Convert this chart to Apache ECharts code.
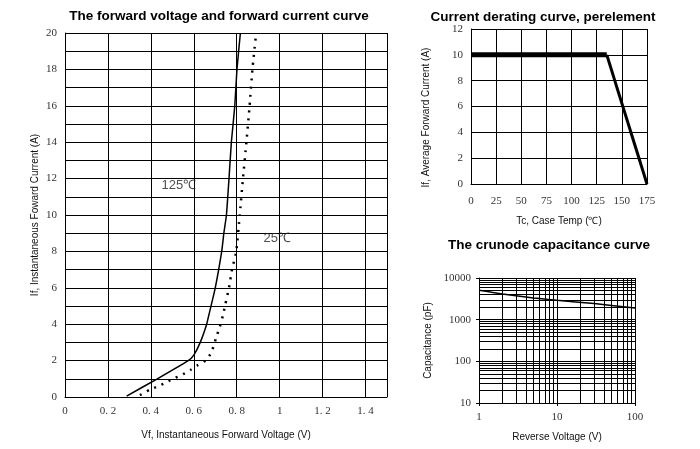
<!DOCTYPE html>
<html>
<head>
<meta charset="utf-8">
<script src="https://cdn.jsdelivr.net/npm/echarts@6/dist/echarts.min.js"></script>
<style>
  html, body { margin: 0; padding: 0; background: #fff; }
  #main { width: 700px; height: 449px; }
</style>
</head>
<body>
<div id="main"></div>
<script>
// forward voltage / forward current
var vf125 = [0.287, 0.43, 0.574, 0.60, 0.63, 0.66, 0.67, 0.70, 0.73, 0.74, 0.752, 0.764, 0.775, 0.791, 0.801, 0.817];
var if125 = [0.05, 1.0, 2.0, 2.3, 3.0, 4.0, 4.5, 6, 8, 9, 10, 12, 14, 16, 18, 20];
var vf25 = [0.349, 0.395, 0.437, 0.473, 0.512, 0.55, 0.586, 0.617, 0.654, 0.682, 0.705, 0.721, 0.736, 0.747, 0.764, 0.778, 0.798, 0.814, 0.829, 0.845, 0.860, 0.873, 0.888];
var if25 = [0.1, 0.4, 0.6, 0.82, 1.04, 1.25, 1.5, 1.74, 2.0, 2.44, 3.3, 3.85, 4.5, 5.1, 6, 7, 8, 10, 12, 14, 16, 18, 19.7];
var curveLabels = ['125℃', '25℃'];
var curveLabelPos = [[0.45, 11.6], [0.925, 8.7]];

// current derating
var derateTemp = [0, 135, 175];
var derateCurrent = [10, 10, 0];

// junction capacitance
var capVolt = [1, 2, 5, 10, 30, 100];
var capPf = [5070, 4130, 3310, 2920, 2430, 1900];

var titles = [
  'The forward voltage and forward current curve',
  'Current derating curve, perelement',
  'The crunode capacitance curve'
];

var black = '#000';
var tickFont = { color: '#333', fontFamily: 'Liberation Serif', fontSize: 11 };
var nameFont = { color: '#111', fontFamily: 'Liberation Sans', fontSize: 10 };
var titleFont = { fontFamily: 'Liberation Sans', fontWeight: 'bold', fontSize: 13.5, color: black };

function pairs(xs, ys) {
  var out = [];
  for (var i = 0; i < xs.length; ++i) out.push([xs[i], ys[i]]);
  return out;
}

// minor log grid values 2..9 per decade
function logMinors(lo, hi) {
  var out = [];
  for (var d = lo; d < hi; d *= 10) {
    for (var k = 2; k <= 9; ++k) out.push(d * k);
  }
  return out;
}

var capGridLines = [];
logMinors(1, 100).forEach(function (v) { capGridLines.push({ xAxis: v }); });
logMinors(10, 10000).forEach(function (v) { capGridLines.push({ yAxis: v }); });

var chart = echarts.init(document.getElementById('main'));

var option = {
  animation: false,
  backgroundColor: '#fff',
  title: [
    { text: titles[0], left: 214, top: 4, textAlign: 'center', textStyle: titleFont },
    { text: titles[1], left: 538, top: 5, textAlign: 'center', textStyle: titleFont },
    { text: titles[2], left: 544, top: 233, textAlign: 'center', textStyle: titleFont }
  ],
  grid: [
    { left: 65, top: 33, width: 322, height: 364 },
    { left: 471, top: 29, width: 176, height: 155 },
    { left: 479, top: 278, width: 156, height: 125 }
  ],
  xAxis: [
    {
      gridIndex: 0, type: 'value', min: 0, max: 1.5, interval: 0.2,
      name: 'Vf, Instantaneous Forward Voltage (V)', nameLocation: 'middle', nameGap: 33,
      nameTextStyle: nameFont,
      axisLine: { lineStyle: { color: black } },
      axisTick: { show: false },
      axisLabel: Object.assign({ margin: 9, showMaxLabel: false,
        formatter: function (v) { return String(+v.toFixed(1)).replace('.', '. '); } }, tickFont),
      splitLine: { show: true, lineStyle: { color: black, width: 1 } }
    },
    {
      gridIndex: 1, type: 'value', min: 0, max: 175, interval: 25,
      name: 'Tc, Case Temp (℃)', nameLocation: 'middle', nameGap: 32,
      nameTextStyle: nameFont,
      axisLine: { lineStyle: { color: black } },
      axisTick: { show: false },
      axisLabel: Object.assign({ margin: 12 }, tickFont),
      splitLine: { show: true, lineStyle: { color: black, width: 1 } }
    },
    {
      gridIndex: 2, type: 'log', logBase: 10, min: 1, max: 100,
      name: 'Reverse Voltage (V)', nameLocation: 'middle', nameGap: 29,
      nameTextStyle: nameFont,
      axisLine: { lineStyle: { color: black } },
      axisTick: { show: true, length: 3, lineStyle: { color: black } },
      axisLabel: Object.assign({ margin: 9, formatter: function (v) { return String(Math.round(v)); } }, tickFont),
      splitLine: { show: true, lineStyle: { color: black, width: 1 } }
    }
  ],
  yAxis: [
    {
      gridIndex: 0, type: 'value', min: 0, max: 20, interval: 2,
      name: 'If, Instantaneous Foward Current (A)', nameLocation: 'middle', nameGap: 25,
      nameTextStyle: nameFont,
      axisLine: { show: true, lineStyle: { color: black } },
      axisTick: { show: false },
      axisLabel: Object.assign({ margin: 8 }, tickFont),
      splitLine: { show: true, lineStyle: { color: black, width: 1 } },
      minorTick: { show: false, splitNumber: 2 },
      minorSplitLine: { show: true, lineStyle: { color: black, width: 1 } }
    },
    {
      gridIndex: 1, type: 'value', min: 0, max: 12, interval: 2,
      name: 'If, Average Forward Current (A)', nameLocation: 'middle', nameGap: 40,
      nameTextStyle: Object.assign({ padding: [0, 0, 0, -22] }, nameFont),
      axisLine: { show: true, lineStyle: { color: black } },
      axisTick: { show: false },
      axisLabel: Object.assign({ margin: 8 }, tickFont),
      splitLine: { show: true, lineStyle: { color: black, width: 1 } }
    },
    {
      gridIndex: 2, type: 'log', logBase: 10, min: 10, max: 10000,
      name: 'Capacitance (pF)', nameLocation: 'middle', nameGap: 46,
      nameTextStyle: nameFont,
      axisLine: { show: true, lineStyle: { color: black } },
      axisTick: { show: true, length: 3, lineStyle: { color: black } },
      axisLabel: Object.assign({ margin: 8, formatter: function (v) { return String(Math.round(v)); } }, tickFont),
      splitLine: { show: true, lineStyle: { color: black, width: 1 } }
    }
  ],
  series: [
    {
      name: '125℃', type: 'line', xAxisIndex: 0, yAxisIndex: 0,
      data: pairs(vf125, if125), showSymbol: false, smooth: 0.15,
      lineStyle: { color: black, width: 1.5 }
    },
    {
      name: '25℃', type: 'line', xAxisIndex: 0, yAxisIndex: 0,
      data: pairs(vf25, if25), showSymbol: false, smooth: 0.15,
      lineStyle: { color: black, width: 2.5, type: [2, 6] }
    },
    {
      type: 'scatter', xAxisIndex: 0, yAxisIndex: 0, symbolSize: 0, silent: true,
      data: curveLabelPos.map(function (p, i) { return { value: p, name: curveLabels[i] }; }),
      label: {
        show: true, position: 'right', distance: 0,
        formatter: '{b}', color: '#222', fontFamily: 'Liberation Sans', fontSize: 13
      }
    },
    {
      type: 'line', xAxisIndex: 1, yAxisIndex: 1, showSymbol: false,
      data: pairs(derateTemp.slice(0, 2), derateCurrent.slice(0, 2)),
      lineStyle: { color: black, width: 5 }
    },
    {
      type: 'line', xAxisIndex: 1, yAxisIndex: 1, showSymbol: false,
      data: pairs(derateTemp.slice(1), derateCurrent.slice(1)),
      lineStyle: { color: black, width: 3 }
    },
    {
      type: 'line', xAxisIndex: 2, yAxisIndex: 2, showSymbol: false, smooth: 0.2,
      data: pairs(capVolt, capPf),
      lineStyle: { color: black, width: 1.5 },
      markLine: {
        silent: true, symbol: 'none', label: { show: false },
        lineStyle: { color: black, width: 1, type: 'solid' },
        data: capGridLines
      }
    }
  ]
};

chart.setOption(option);
</script>
</body>
</html>
